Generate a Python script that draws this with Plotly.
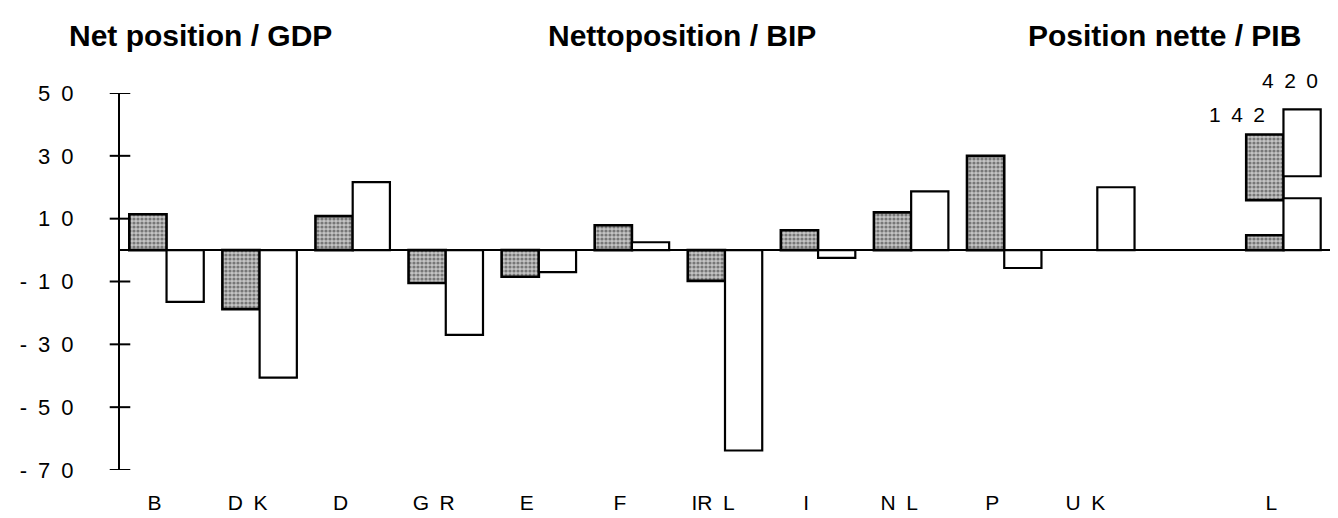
import plotly.graph_objects as go

EN = "\u2002"  # wide letter spacing as in the scanned original

# categories (index 11 is an empty slot before L)
countries = ["B", "D K", "D", "G R", "E", "F", "IR L", "I", "N L", "P", "U K", "", "L"]
# net position / GDP, shaded series and white series
net_shaded = [11.4, -18.8, 10.8, -10.5, -8.5, 7.9, -9.8, 6.3, 12.0, 30.0, None, None, 142]
net_white = [-16.5, -40.6, 21.6, -27.0, -7.0, 2.5, -63.8, -2.5, 18.7, -5.7, 20.0, None, 420]

# L is off the scale: drawn as broken bars (base, top)
l_shaded_pieces = [(0, 4.7), (15.9, 36.8)]
l_white_pieces = [(0, 16.5), (23.5, 44.8)]

y_ticks = [50, 30, 10, -10, -30, -50, -70]
y_tick_text = ["5 0", "3 0", "1 0", "- 1 0", "- 3 0", "- 5 0", "- 7 0"]

x_idx = list(range(len(countries)))
n_main = 11  # bars drawn on scale


def spaced(s, sep=EN):
    return s.replace(" ", sep)


shaded_marker = dict(
    color="#b8b8b8",
    pattern=dict(shape=".", fgcolor="#2a2a2a", bgcolor="#c4c4c4", size=4, solidity=0.5),
    line=dict(color="black", width=2.6),
)
white_marker = dict(color="white", line=dict(color="black", width=2.2))

fig = go.Figure()

fig.add_trace(go.Bar(
    x=x_idx[:n_main], y=net_shaded[:n_main],
    width=0.4, offset=-0.4, marker=shaded_marker, showlegend=False,
))
fig.add_trace(go.Bar(
    x=x_idx[:n_main], y=net_white[:n_main],
    width=0.4, offset=0.0, marker=white_marker, showlegend=False,
))

# broken L bars
fig.add_trace(go.Bar(
    x=[12] * len(l_shaded_pieces),
    base=[p[0] for p in l_shaded_pieces],
    y=[p[1] - p[0] for p in l_shaded_pieces],
    width=0.4, offset=-0.4, marker=shaded_marker, showlegend=False,
))
fig.add_trace(go.Bar(
    x=[12] * len(l_white_pieces),
    base=[p[0] for p in l_white_pieces],
    y=[p[1] - p[0] for p in l_white_pieces],
    width=0.4, offset=0.0, marker=white_marker, showlegend=False,
))

# real values of L written above the broken bars
lbl_font = dict(family="Liberation Sans, Arial", size=21, color="black")
fig.add_annotation(x=12, y=0.942, xref="x", yref="paper",
                   text=EN.join(str(net_shaded[12])),
                   showarrow=False, xanchor="right", yanchor="middle", xshift=-16, font=lbl_font)
fig.add_annotation(x=12, y=1.034, xref="x", yref="paper",
                   text=EN.join(str(net_white[12])),
                   showarrow=False, xanchor="right", yanchor="middle", xshift=37, font=lbl_font)

# y-axis ticks crossing the axis line
for v in y_ticks:
    fig.add_shape(type="line", xref="paper", yref="y", x0=-0.0085, x1=0.0085, y0=v, y1=v,
                  line=dict(color="black", width=2))

title_font = dict(family="Liberation Sans, Arial", size=30, color="black")
fig.add_annotation(x=-0.0435, y=1.153, xref="paper", yref="paper", text="<b>Net position / GDP</b>",
                   showarrow=False, xanchor="left", yanchor="middle", font=title_font)
fig.add_annotation(x=0.352, y=1.153, xref="paper", yref="paper", text="<b>Nettoposition / BIP</b>",
                   showarrow=False, xanchor="left", yanchor="middle", font=title_font)
fig.add_annotation(x=0.978, y=1.153, xref="paper", yref="paper", text="<b>Position nette / PIB</b>",
                   showarrow=False, xanchor="right", yanchor="middle", font=title_font)

fig.update_layout(
    width=1338, height=518,
    margin=dict(l=103, r=16, t=85, b=55),
    paper_bgcolor="white", plot_bgcolor="white",
    barmode="overlay",
    font=dict(family="Liberation Sans, Arial", size=21, color="black"),
)
fig.update_xaxes(
    range=[-0.5, 12.5], tickmode="array", tickvals=x_idx,
    ticktext=[spaced(c) for c in countries],
    showgrid=False, zeroline=False, showline=False, ticks="",
    ticklabelstandoff=18, ticklabelshift=-12, tickfont=dict(size=21),
)
fig.update_yaxes(
    range=[-70, 50], tickmode="array", tickvals=y_ticks,
    ticktext=[spaced(t) for t in y_tick_text],
    showgrid=False, zeroline=True, zerolinecolor="black", zerolinewidth=2,
    showline=True, linecolor="black", linewidth=2, ticks="",
    ticklabelstandoff=40, tickfont=dict(size=22),
)

fig.write_html("out.html")
